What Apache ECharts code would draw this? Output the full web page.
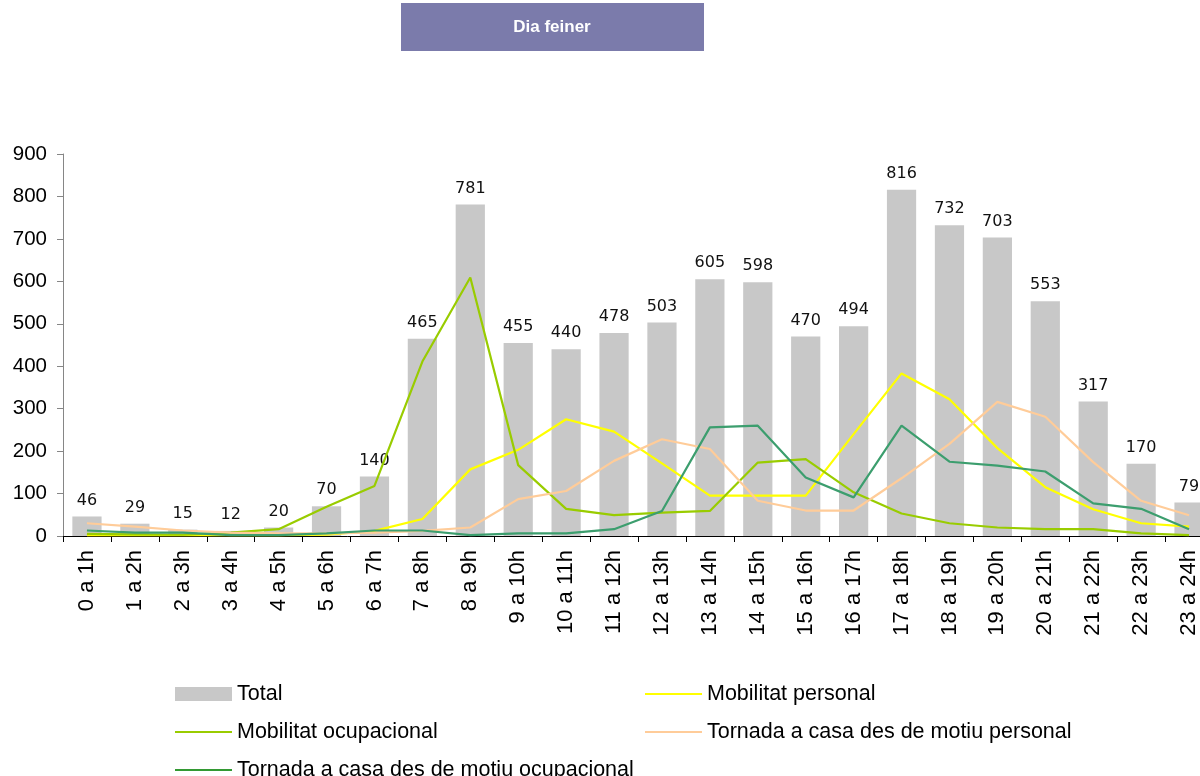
<!DOCTYPE html>
<html>
<head>
<meta charset="utf-8">
<script src="https://cdn.jsdelivr.net/npm/echarts@6/dist/echarts.min.js"></script>
<style>
  html, body { margin: 0; padding: 0; background: #fff; }
  #chart { width: 1200px; height: 776px; }
</style>
</head>
<body>
<div id="chart"></div>
<script>
const hours = ['0 a 1h', '1 a 2h', '2 a 3h', '3 a 4h', '4 a 5h', '5 a 6h', '6 a 7h', '7 a 8h',
  '8 a 9h', '9 a 10h', '10 a 11h', '11 a 12h', '12 a 13h', '13 a 14h', '14 a 15h', '15 a 16h',
  '16 a 17h', '17 a 18h', '18 a 19h', '19 a 20h', '20 a 21h', '21 a 22h', '22 a 23h', '23 a 24h'];

const total = [46, 29, 15, 12, 20, 70, 140, 465, 781, 455, 440, 478, 503, 605, 598, 470, 494, 816, 732, 703, 553, 317, 170, 79];
const mobPersonal = [2, 2, 2, 2, 2, 3, 12, 40, 157, 203, 275, 246, 171, 95, 95, 95, 240, 383, 322, 207, 115, 63, 30, 22];
const mobOcupacional = [5, 4, 3, 8, 16, 69, 118, 411, 609, 167, 64, 49, 55, 59, 173, 181, 103, 53, 30, 20, 16, 16, 6, 2];
const tornadaPersonal = [30, 22, 13, 8, 6, 6, 8, 12, 20, 87, 106, 177, 228, 205, 83, 60, 60, 136, 217, 316, 281, 174, 83, 49];
const tornadaOcupacional = [13, 8, 8, 2, 2, 6, 13, 13, 2, 6, 6, 16, 59, 256, 260, 138, 91, 260, 175, 166, 152, 77, 64, 16];

const chart = echarts.init(document.getElementById('chart'), null, { renderer: 'canvas' });

const legendText = { fontFamily: 'Liberation Sans, Arial, sans-serif', fontSize: 21.5, color: '#000' };
function legendAt(name, left, top, isLine) {
  return {
    left: left, top: top, padding: 0,
    itemWidth: 57, itemHeight: isLine ? 2 : 14, icon: 'rect',
    textStyle: legendText, data: [name], selectedMode: false
  };
}

const option = {
  animation: false,
  graphic: [
    { type: 'rect', shape: { x: 401, y: 3, width: 303, height: 48 }, style: { fill: '#7b7bab' } },
    { type: 'text', x: 552, y: 27, style: { text: 'Dia feiner', fill: '#fff', font: 'bold 17px Liberation Sans, Arial, sans-serif', align: 'center', verticalAlign: 'middle' } }
  ],
  legend: [
    legendAt('Total', 175, 683, false),
    legendAt('Mobilitat ocupacional', 175, 721, true),
    legendAt('Tornada a casa des de motiu ocupacional', 175, 759, true),
    legendAt('Mobilitat personal', 645, 683, true),
    legendAt('Tornada a casa des de motiu personal', 645, 721, true)
  ],
  grid: { left: 63, width: 1150, top: 154, bottom: 240, outerBoundsMode: 'none', containLabel: false },
  xAxis: {
    type: 'category',
    data: hours,
    axisLine: { lineStyle: { color: '#000', width: 1 } },
    axisTick: { show: true, length: 6, lineStyle: { color: '#000' } },
    axisLabel: { rotate: 90, interval: 0, fontFamily: 'Liberation Sans, Arial, sans-serif', fontSize: 22, color: '#000', margin: 14 }
  },
  yAxis: {
    type: 'value',
    min: 0, max: 900, interval: 100,
    splitLine: { show: false },
    axisLine: { show: true, lineStyle: { color: '#868686', width: 1 } },
    axisTick: { show: true, length: 6, lineStyle: { color: '#868686' } },
    axisLabel: { fontFamily: 'Liberation Sans, Arial, sans-serif', fontSize: 20.5, color: '#000', margin: 16 }
  },
  series: [
    {
      name: 'Total', type: 'bar', data: total, barWidth: '61%',
      itemStyle: { color: '#c8c8c8' },
      label: { show: true, position: 'top', distance: 8, fontFamily: 'DejaVu Sans, Verdana, sans-serif', fontSize: 16, color: '#111' }
    },
    { name: 'Mobilitat personal', type: 'line', data: mobPersonal, symbol: 'none', lineStyle: { color: '#ffff00', width: 2.2 }, itemStyle: { color: '#ffff00' } },
    { name: 'Mobilitat ocupacional', type: 'line', data: mobOcupacional, symbol: 'none', lineStyle: { color: '#99cc00', width: 2.2 }, itemStyle: { color: '#99cc00' } },
    { name: 'Tornada a casa des de motiu personal', type: 'line', data: tornadaPersonal, symbol: 'none', lineStyle: { color: '#ffcc99', width: 2.2 }, itemStyle: { color: '#ffcc99' } },
    { name: 'Tornada a casa des de motiu ocupacional', type: 'line', data: tornadaOcupacional, symbol: 'none', lineStyle: { color: '#3c9e6e', width: 2.2 }, itemStyle: { color: '#339933' } }
  ]
};

chart.setOption(option);
</script>
</body>
</html>
